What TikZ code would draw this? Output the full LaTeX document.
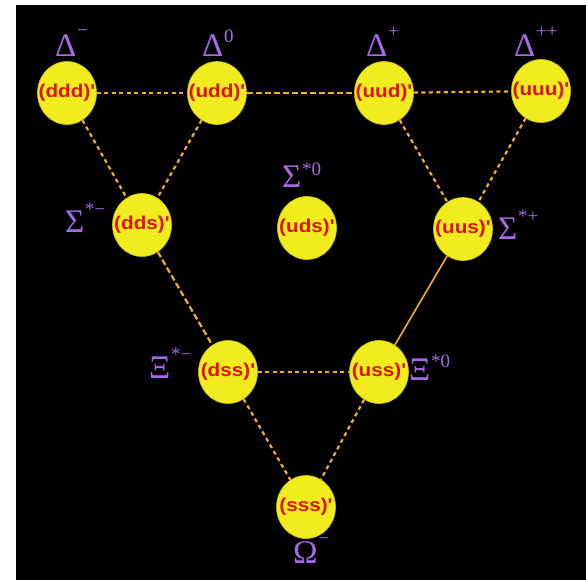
\documentclass[tikz,border=0pt]{standalone}
\usepackage{fontspec}
\setmainfont{Liberation Serif}
\newfontfamily\cfont[Ligatures=TeXOff]{Liberation Sans}
\usetikzlibrary{shapes.geometric}
\definecolor{bgblack}{RGB}{0,0,0}
\definecolor{ballyel}{RGB}{240,236,30}
\definecolor{ballrim}{RGB}{200,196,20}
\definecolor{quarkred}{RGB}{220,20,20}
\definecolor{labpurple}{RGB}{165,105,230}
\definecolor{linkor}{RGB}{245,170,40}
\newcommand\blab[3]{{\fontsize{33}{33}\selectfont #1}\kern1pt\raisebox{#2pt}{\fontsize{19}{19}\selectfont #3}}
\newcommand\qtext[1]{\makebox[0pt]{\scalebox{1.12}[1]{\cfont\bfseries\fontsize{18.5}{18.5}\selectfont #1}}}
\tikzset{
  ball/.style={ellipse, minimum width=59pt, minimum height=63pt, inner sep=0pt,
    fill=ballyel, draw=ballrim, line width=0.6pt, text=quarkred},
  lab/.style={anchor=base west, inner sep=0pt, outer sep=0pt, text=labpurple},
  conn/.style={draw=linkor, line width=2.2pt, dash pattern=on 4pt off 3.5pt},
  connlong/.style={draw=linkor, line width=2.2pt, dash pattern=on 6pt off 3pt},
  connfine/.style={draw=linkor, line width=1.6pt}
}
\begin{document}
\begin{tikzpicture}[x=1pt,y=-1pt]
\useasboundingbox (0,0) rectangle (586,580);
\fill[white] (0,0) rectangle (586,580);
\fill[bgblack] (16,5) rectangle (586,580);
% baryon balls
\node[ball] (ddd) at (67,93) {\qtext{(ddd)'}};
\node[ball] (udd) at (217,93) {\qtext{(udd)'}};
\node[ball] (uud) at (384,93) {\qtext{(uud)'}};
\node[ball] (uuu) at (541,91) {\qtext{(uuu)'}};
\node[ball] (dds) at (142,225) {\qtext{(dds)'}};
\node[ball] (uds) at (307,228) {\qtext{(uds)'}};
\node[ball] (uus) at (463,229) {\qtext{(uus)'}};
\node[ball] (dss) at (228,372) {\qtext{(dss)'}};
\node[ball] (uss) at (379,372) {\qtext{(uss)'}};
\node[ball] (sss) at (306,507) {\qtext{(sss)'}};
% connectors
\path[conn] (ddd) -- (udd);
\path[connlong] (udd) -- (uud);
\path[conn] (uud) -- (uuu);
\path[conn] (ddd) -- (dds);
\path[conn] (udd) -- (dds);
\path[conn] (uud) -- (uus);
\path[conn] (uuu) -- (uus);
\path[connlong] (dds) -- (dss);
\path[connfine] (uus) -- (uss);
\path[conn] (dss) -- (uss);
\path[conn] (dss) -- (sss);
\path[conn] (uss) -- (sss);
% labels
\node[lab] (Ldm) at (55,57) {\blab{Δ}{20}{−}};
\node[lab] (Ld0) at (202,57) {\blab{Δ}{14}{0}};
\node[lab] (Ldp) at (366,57) {\blab{Δ}{19}{+}};
\node[lab] (Ldpp) at (514,57) {\blab{Δ}{19}{++}};
\node[lab] (Lsm) at (65,232) {\blab{Σ}{17}{*−}};
\node[lab] (Ls0) at (282,188) {\blab{Σ}{13}{*0}};
\node[lab] (Lsp) at (498,239) {\blab{Σ}{17}{*+}};
\node[lab] (Lxm) at (149,378) {\blab{Ξ}{18}{*−}};
\node[lab] (Lx0) at (409,380) {\blab{Ξ}{13}{*0}};
\node[lab] (Lom) at (293,563) {\blab{Ω}{19}{−}};
\end{tikzpicture}
\end{document}
